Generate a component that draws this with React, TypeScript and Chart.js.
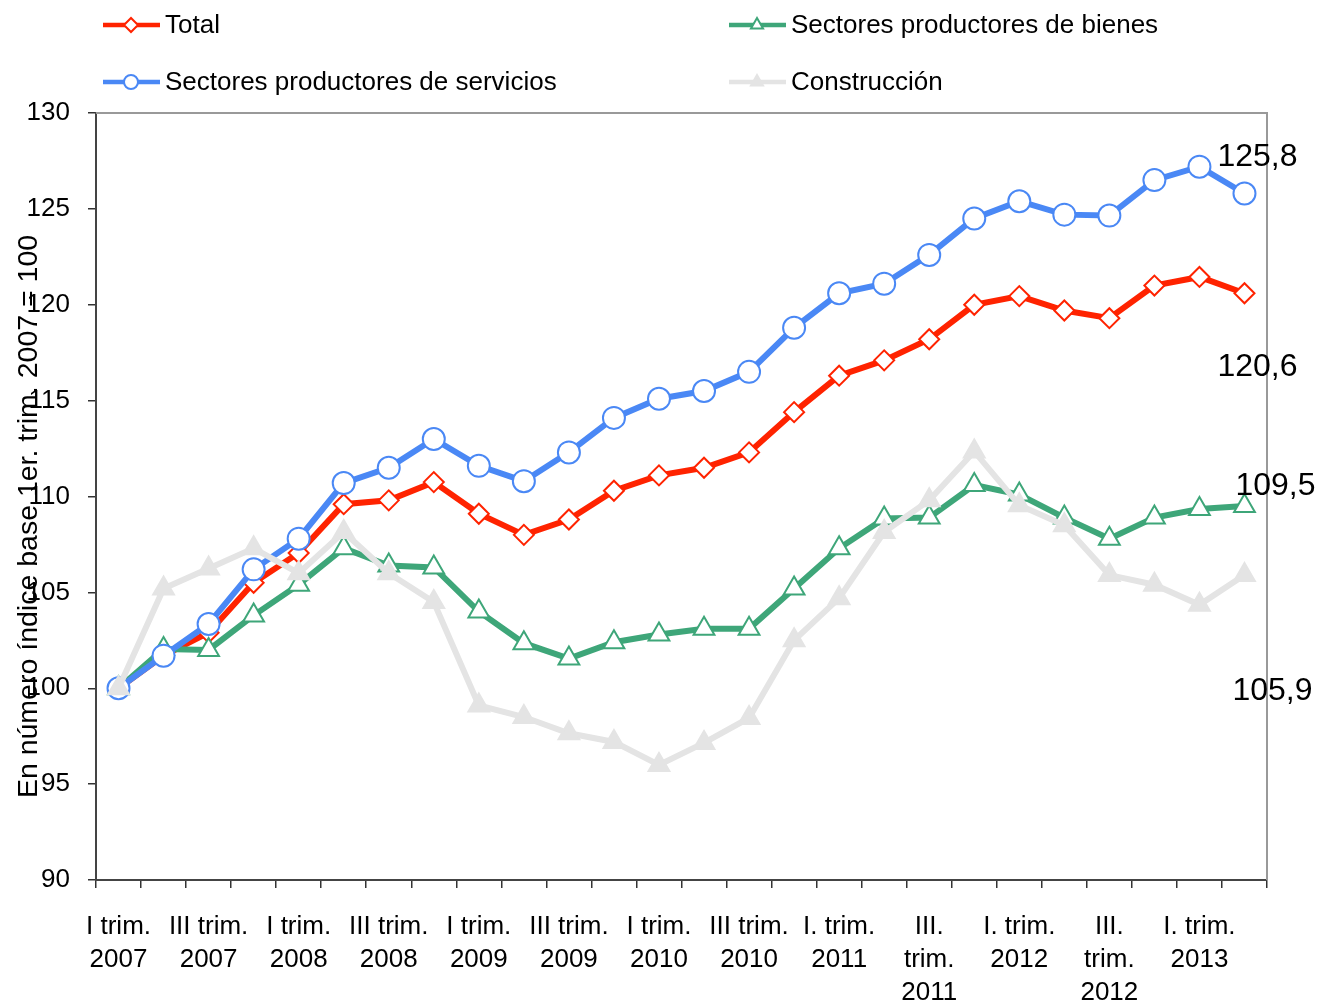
import React, { useEffect, useRef } from "react";
import { Chart, registerables } from "chart.js";
import { drawPoint } from "chart.js/helpers";

Chart.register(...registerables);

const quarters = [
  "I 2007", "II 2007", "III 2007", "IV 2007",
  "I 2008", "II 2008", "III 2008", "IV 2008",
  "I 2009", "II 2009", "III 2009", "IV 2009",
  "I 2010", "II 2010", "III 2010", "IV 2010",
  "I 2011", "II 2011", "III 2011", "IV 2011",
  "I 2012", "II 2012", "III 2012", "IV 2012",
  "I 2013", "II 2013",
];

const tickLabels: string[][] = [
  ["I trim.", "2007"], [], ["III trim.", "2007"], [],
  ["I trim.", "2008"], [], ["III trim.", "2008"], [],
  ["I trim.", "2009"], [], ["III trim.", "2009"], [],
  ["I trim.", "2010"], [], ["III trim.", "2010"], [],
  ["I. trim.", "2011"], [], ["III.", "trim.", "2011"], [],
  ["I. trim.", "2012"], [], ["III.", "trim.", "2012"], [],
  ["I. trim.", "2013"], [],
];

const total = [100, 101.7, 102.9, 105.5, 107.05, 109.6, 109.8, 110.75, 109.1, 108.0, 108.8, 110.3, 111.1, 111.5, 112.3, 114.4, 116.3, 117.1, 118.2, 120.0, 120.45, 119.7, 119.3, 121.0, 121.45, 120.6];
const servicios = [100, 101.7, 103.35, 106.2, 107.8, 110.7, 111.5, 113.0, 111.6, 110.8, 112.3, 114.1, 115.1, 115.5, 116.5, 118.8, 120.6, 121.1, 122.6, 124.5, 125.4, 124.7, 124.65, 126.5, 127.2, 125.8];
const bienes = [100, 102.05, 102.0, 103.8, 105.4, 107.3, 106.4, 106.3, 104.0, 102.35, 101.55, 102.4, 102.8, 103.1, 103.1, 105.2, 107.3, 108.85, 108.9, 110.6, 110.1, 108.9, 107.8, 108.9, 109.35, 109.5];
const construccion = [100, 105.2, 106.25, 107.3, 106.0, 108.15, 106.0, 104.5, 99.1, 98.5, 97.65, 97.2, 96.0, 97.15, 98.45, 102.5, 104.7, 108.15, 109.8, 112.35, 109.55, 108.5, 105.9, 105.4, 104.35, 105.9];

const seriesNames = [
  "Total",
  "Sectores productores de bienes",
  "Sectores productores de servicios",
  "Construcción",
];

const yTitle = "En número índice base 1er. trim. 2007 = 100";

const NARROW = "'Liberation Sans Narrow', 'Arial Narrow', 'Liberation Sans', Arial, sans-serif";
const REGULAR = "'Liberation Sans', Arial, sans-serif";

const RED = "#FF2300";
const BLUE = "#4A88F5";
const GREEN = "#3EA679";
const GRAY = "#E4E4E4";

export default function App() {
  const ref = useRef<HTMLCanvasElement | null>(null);

  useEffect(() => {
    if (!ref.current) return;

    const legendPlugin = {
      id: "customLegend",
      afterDraw(chart: any) {
        const ctx = chart.ctx;
        const items = [
          { ds: 0, col: 0, row: 0 },
          { ds: 1, col: 1, row: 0 },
          { ds: 2, col: 0, row: 1 },
          { ds: 3, col: 1, row: 1 },
        ];
        const colX = [103, 729];
        const rowY = [25, 82];
        ctx.save();
        items.forEach((it) => {
          const ds = chart.data.datasets[it.ds];
          const x = colX[it.col];
          const y = rowY[it.row];
          ctx.strokeStyle = ds.borderColor;
          ctx.lineWidth = 4.5;
          ctx.beginPath();
          ctx.moveTo(x, y);
          ctx.lineTo(x + 57, y);
          ctx.stroke();
          ctx.fillStyle = ds.pointBackgroundColor;
          ctx.strokeStyle = ds.pointBorderColor;
          ctx.lineWidth = 2;
          drawPoint(ctx, { pointStyle: ds.pointStyle, radius: 7, rotation: 0, borderWidth: 2 }, x + 28, y);
          ctx.fillStyle = "#000";
          ctx.font = `26px ${NARROW}`;
          ctx.textAlign = "left";
          ctx.textBaseline = "middle";
          ctx.fillText(ds.label, x + 62, y + 1);
        });
        ctx.restore();
      },
    };

    const framePlugin = {
      id: "frame",
      beforeDatasetsDraw(chart: any) {
        const { ctx, chartArea } = chart;
        ctx.save();
        ctx.strokeStyle = "#999";
        ctx.lineWidth = 2;
        ctx.beginPath();
        ctx.moveTo(chartArea.left, chartArea.top);
        ctx.lineTo(chartArea.right, chartArea.top);
        ctx.lineTo(chartArea.right, chartArea.bottom);
        ctx.stroke();
        ctx.restore();
      },
      afterDraw(chart: any) {
        const { ctx, chartArea } = chart;
        ctx.save();
        ctx.translate(29, (chartArea.top + chartArea.bottom) / 2 + 20);
        ctx.rotate(-Math.PI / 2);
        ctx.fillStyle = "#000";
        ctx.font = `28.5px ${NARROW}`;
        ctx.textAlign = "center";
        ctx.textBaseline = "middle";
        ctx.fillText(yTitle, 0, 0);
        ctx.restore();
      },
    };

    const valueLabelPlugin = {
      id: "valueLabels",
      afterDatasetsDraw(chart: any) {
        const ctx = chart.ctx;
        ctx.save();
        ctx.fillStyle = "#000";
        ctx.font = `32px ${REGULAR}`;
        ctx.textAlign = "center";
        ctx.textBaseline = "middle";
        chart.data.datasets.forEach((ds: any, i: number) => {
          const meta = chart.getDatasetMeta(i);
          const last = meta.data[meta.data.length - 1];
          const v = ds.data[ds.data.length - 1];
          const off = ds.lastLabelOffset;
          ctx.fillText(v.toFixed(1).replace(".", ","), last.x + off.x, last.y + off.y);
        });
        ctx.restore();
      },
    };

    const chart = new Chart(ref.current, {
      type: "line",
      data: {
        labels: quarters,
        datasets: [
          {
            label: seriesNames[0],
            data: total,
            borderColor: RED,
            backgroundColor: RED,
            pointBackgroundColor: "#fff",
            pointBorderColor: RED,
            pointStyle: "rectRot",
            pointRadius: 10,
            pointBorderWidth: 2,
            borderWidth: 6,
            order: 4,
            lastLabelOffset: { x: 13, y: 74 },
          } as any,
          {
            label: seriesNames[1],
            data: bienes,
            borderColor: GREEN,
            backgroundColor: GREEN,
            pointBackgroundColor: "#fff",
            pointBorderColor: GREEN,
            pointStyle: "triangle",
            pointRadius: 12,
            pointBorderWidth: 2,
            borderWidth: 6,
            order: 3,
            lastLabelOffset: { x: 31, y: -20 },
          } as any,
          {
            label: seriesNames[2],
            data: servicios,
            borderColor: BLUE,
            backgroundColor: BLUE,
            pointBackgroundColor: "#fff",
            pointBorderColor: BLUE,
            pointStyle: "circle",
            pointRadius: 11,
            pointBorderWidth: 2,
            borderWidth: 6,
            order: 2,
            lastLabelOffset: { x: 13, y: -36 },
          } as any,
          {
            label: seriesNames[3],
            data: construccion,
            borderColor: GRAY,
            backgroundColor: GRAY,
            pointBackgroundColor: GRAY,
            pointBorderColor: GRAY,
            pointStyle: "triangle",
            pointRadius: 12,
            pointBorderWidth: 2,
            borderWidth: 6,
            order: 1,
            lastLabelOffset: { x: 28, y: 116 },
          } as any,
        ],
      },
      options: {
        responsive: true,
        maintainAspectRatio: false,
        animation: false,
        layout: { padding: { left: 0, right: 52, top: 113, bottom: 0 } },
        plugins: {
          legend: { display: false },
          tooltip: { enabled: false },
        },
        elements: { line: { tension: 0 } },
        scales: {
          x: {
            offset: true,
            grid: {
              offset: true,
              drawOnChartArea: false,
              drawTicks: true,
              tickLength: 8,
              color: "#333",
              lineWidth: 1.5,
            },
            border: { color: "#444", width: 2 },
            ticks: {
              autoSkip: false,
              maxRotation: 0,
              minRotation: 0,
              padding: 22,
              color: "#000",
              font: { family: NARROW, size: 26, lineHeight: 1.28 },
              callback: (_v: any, i: number) => tickLabels[i],
            },
            afterFit: (scale: any) => {
              scale.height = 123;
            },
          },
          y: {
            min: 90,
            max: 130,
            ticks: {
              stepSize: 5,
              padding: 18,
              color: "#000",
              font: { family: NARROW, size: 26 },
            },
            grid: {
              drawOnChartArea: false,
              drawTicks: true,
              tickLength: 8,
              color: "#333",
              lineWidth: 1.5,
            },
            border: { color: "#444", width: 2 },
            afterFit: (scale: any) => {
              scale.width = 96;
            },
          },
        },
      },
      plugins: [legendPlugin, framePlugin, valueLabelPlugin],
    });

    return () => chart.destroy();
  }, []);

  return (
    <div style={{ position: "absolute", left: 0, top: 0, width: 1319, height: 1003, background: "#fff" }}>
      <canvas ref={ref} />
    </div>
  );
}
